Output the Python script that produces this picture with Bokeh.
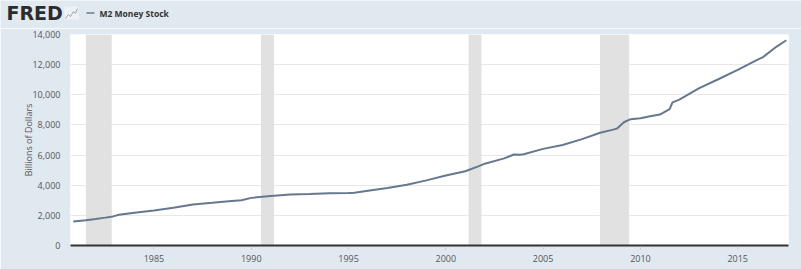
from bokeh.plotting import figure
from bokeh.layouts import column, row
from bokeh.models import BoxAnnotation, FixedTicker, NumeralTickFormatter, Range1d
from bokeh.core.properties import value
from bokeh.embed import file_html
from bokeh.resources import INLINE

# M2 Money Stock, billions of dollars
years = [1980.85, 1981.5, 1982.0, 1982.5, 1982.9, 1983.2, 1984.0, 1985.0, 1986.0,
         1987.0, 1988.0, 1989.0, 1989.5, 1990.0, 1991.0, 1992.0, 1993.0, 1994.0,
         1995.0, 1995.3, 1996.0, 1997.0, 1998.0, 1999.0, 2000.0, 2001.0, 2001.7,
         2002.0, 2003.0, 2003.5, 2003.8, 2004.0, 2005.0, 2006.0, 2007.0, 2007.93,
         2008.6, 2008.8, 2009.15, 2009.5, 2010.0, 2010.5, 2011.0, 2011.5, 2011.65,
         2012.0, 2013.0, 2014.0, 2015.0, 2016.0, 2016.3, 2017.0, 2017.5]
m2 = [1600, 1680, 1760, 1850, 1930, 2040, 2170, 2330, 2500,
      2720, 2830, 2960, 3000, 3160, 3280, 3380, 3410, 3470,
      3490, 3500, 3640, 3820, 4030, 4320, 4640, 4930, 5270,
      5430, 5780, 6040, 6020, 6060, 6410, 6670, 7060, 7480,
      7690, 7760, 8180, 8380, 8450, 8580, 8690, 9050, 9500,
      9680, 10430, 11030, 11650, 12320, 12500, 13200, 13620]

# NBER recessions (start, end) as decimal years
rec_start = [1981.5, 1990.5, 2001.17, 2007.92]
rec_end = [1982.83, 1991.17, 2001.83, 2009.42]

y_ticks = [0, 2000, 4000, 6000, 8000, 10000, 12000, 14000]
x_ticks = [1985, 1990, 1995, 2000, 2005, 2010, 2015]

series_name = "M2 Money Stock"
brand = "FRED"

BG = "#e1e9f0"
FONT = "Open Sans"
LINE = "#66788f"

# ---------------- header strip ----------------
HEADER_H = 28
hdr = figure(width=801, height=HEADER_H, output_backend="svg", toolbar_location=None,
             x_range=Range1d(0, 801), y_range=Range1d(HEADER_H, 0),
             min_border=0, min_border_left=0, min_border_right=0,
             min_border_top=0, min_border_bottom=0,
             x_axis_type=None, y_axis_type=None)
hdr.border_fill_color = BG
hdr.background_fill_color = BG
hdr.outline_line_color = None
hdr.xgrid.grid_line_color = None
hdr.ygrid.grid_line_color = None

hdr.text(x=[6], y=[12.5], text=[brand], text_font=value("DejaVu Sans"),
         text_font_size="19px", text_font_style="bold", text_color="#2b2b2b",
         text_baseline="middle", text_align="left")
# small chart icon next to the logo
hdr.quad(left=[64], right=[78], top=[6], bottom=[19], fill_color="#eef2f5",
         line_color=None)
hdr.line(x=[65, 68, 70, 73, 75, 77], y=[18, 14, 16, 11, 13, 8],
         line_color="#9aa7b4", line_width=1)
# legend entry
hdr.segment(x0=[86], y0=[12.5], x1=[94], y1=[12.5], line_color=LINE, line_width=1.5)
hdr.text(x=[99], y=[12.5], text=[series_name], text_font=value(FONT),
         text_font_size="8.5px", text_font_style="bold", text_color="#333333",
         text_baseline="middle", text_align="left")

# ---------------- main chart ----------------
p = figure(width=801, height=269 - HEADER_H, output_backend="svg", toolbar_location=None,
           x_range=(1980.71, 2017.61), y_range=(0, 14000),
           min_border_left=70, min_border_right=13, min_border_top=6,
           min_border_bottom=24)
p.border_fill_color = BG
p.background_fill_color = "white"
p.outline_line_color = None

for s, e in zip(rec_start, rec_end):
    p.add_layout(BoxAnnotation(left=s, right=e, fill_color="#e1e1e1",
                               fill_alpha=1.0, line_color=None, level="underlay"))

p.line(years, m2, line_color=LINE, line_width=2)

p.xgrid.grid_line_color = None
p.ygrid.ticker = FixedTicker(ticks=y_ticks)
p.ygrid.grid_line_color = "#e8e8e8"
p.ygrid.grid_line_width = 1

p.yaxis.ticker = FixedTicker(ticks=y_ticks)
p.yaxis.formatter = NumeralTickFormatter(format="0,0")
p.yaxis.axis_line_color = None
p.yaxis.major_tick_line_color = None
p.yaxis.minor_tick_line_color = None
p.yaxis.major_tick_in = 0
p.yaxis.major_tick_out = 0
p.yaxis.major_label_standoff = 10
p.yaxis.major_label_text_font = FONT
p.yaxis.major_label_text_font_size = "9px"
p.yaxis.major_label_text_color = "#555555"
p.yaxis.axis_label = "Billions of Dollars"
p.yaxis.axis_label_text_font = FONT
p.yaxis.axis_label_text_font_size = "9px"
p.yaxis.axis_label_text_font_style = "normal"
p.yaxis.axis_label_text_color = "#555555"
p.yaxis.axis_label_standoff = -6

p.xaxis.ticker = FixedTicker(ticks=x_ticks)
p.xaxis.axis_line_color = "#333333"
p.xaxis.axis_line_width = 2
p.xaxis.major_tick_line_color = "#bbbbbb"
p.xaxis.major_tick_line_dash = "1 1"
p.xaxis.major_tick_in = 0
p.xaxis.major_tick_out = 4
p.xaxis.minor_tick_line_color = None
p.xaxis.major_label_standoff = 5
p.xaxis.major_label_text_font = FONT
p.xaxis.major_label_text_font_size = "9px"
p.xaxis.major_label_text_color = "#555555"

page = column(row(hdr), p, spacing=0)
open("out.html", "w").write(file_html(page, INLINE))
